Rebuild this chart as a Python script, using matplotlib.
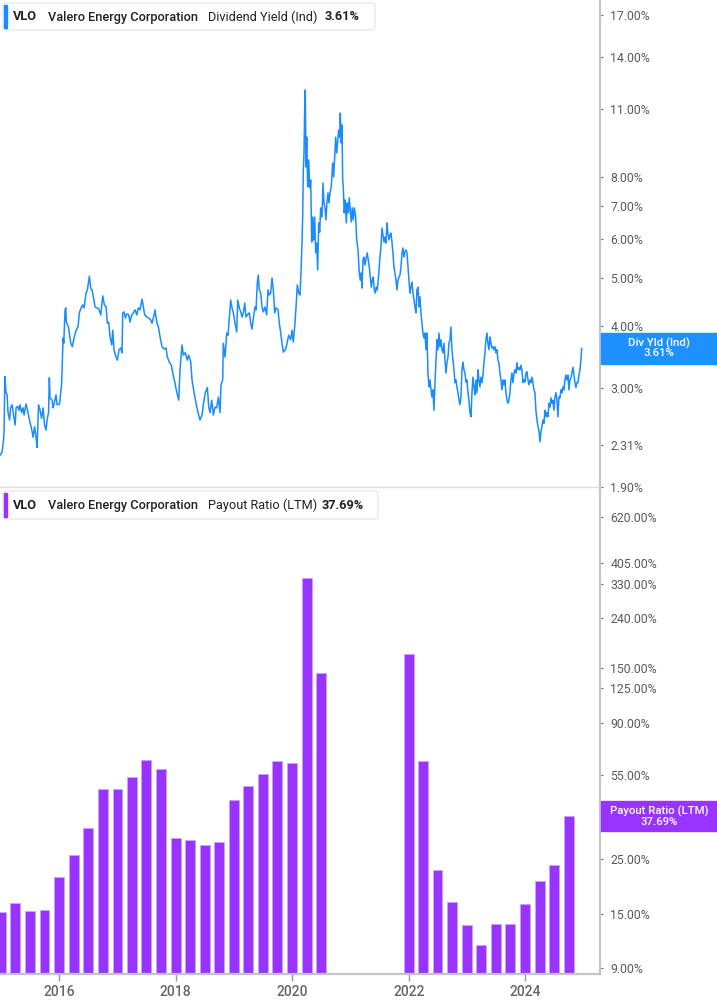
import numpy as np
import pandas as pd
import matplotlib
matplotlib.use("Agg")
import matplotlib.pyplot as plt
from matplotlib.patches import FancyBboxPatch, Rectangle
from matplotlib.ticker import FixedLocator, NullLocator

plt.rcParams['font.family'] = ['Roboto', 'DejaVu Sans']

W, H = 717, 1005

BLUE = '#1a8cff'
BLUE_BOX = '#1e90ff'
PURPLE = '#9933ff'
PURPLE_EDGE = '#c9a3ff'
SPINE_GRAY = '#c4c4c4'
LABEL_GRAY = '#5a5a5a'

symbol = "VLO"
company = "Valero Energy Corporation"

# Dividend Yield (Ind), in %; time is a decimal year
yield_pts = [
    (2014.982, 2.20), (2015.016, 2.23), (2015.042, 2.36), (2015.051, 2.47), (2015.063, 3.17),
    (2015.085, 2.94), (2015.102, 2.91), (2015.119, 2.68), (2015.145, 2.59), (2015.162, 2.74),
    (2015.188, 2.78), (2015.214, 2.65), (2015.240, 2.53), (2015.257, 2.74), (2015.282, 2.76),
    (2015.308, 2.71), (2015.325, 2.78), (2015.351, 2.68), (2015.377, 2.74), (2015.394, 2.65),
    (2015.428, 2.79), (2015.454, 2.71), (2015.480, 2.61), (2015.506, 2.53), (2015.531, 2.46),
    (2015.549, 2.39), (2015.574, 2.51), (2015.600, 2.39), (2015.617, 2.28), (2015.643, 2.78),
    (2015.669, 2.71), (2015.694, 2.61), (2015.720, 2.74), (2015.746, 2.53), (2015.772, 2.47),
    (2015.789, 2.59), (2015.815, 2.68), (2015.828, 3.15), (2015.840, 2.87), (2015.875, 2.84),
    (2015.892, 2.74), (2015.909, 2.79), (2015.943, 2.91), (2015.961, 2.78), (2016.003, 2.79),
    (2016.038, 3.05), (2016.055, 3.55), (2016.064, 3.79), (2016.076, 3.70), (2016.086, 3.99),
    (2016.098, 4.32), (2016.110, 4.36), (2016.120, 4.08),
    (2016.155, 3.99), (2016.196, 3.70), (2016.223, 3.64), (2016.252, 3.79), (2016.287, 3.93),
    (2016.321, 3.99), (2016.343, 4.26), (2016.373, 4.36), (2016.402, 4.42), (2016.424, 4.36),
    (2016.458, 4.67), (2016.481, 4.74), (2016.515, 5.05), (2016.539, 4.78), (2016.561, 4.74),
    (2016.584, 4.59), (2016.613, 4.38), (2016.642, 4.36), (2016.676, 4.34), (2016.711, 4.22),
    (2016.745, 4.61), (2016.773, 4.42), (2016.802, 4.38), (2016.824, 4.06), (2016.848, 4.08),
    (2016.870, 3.81), (2016.900, 3.67), (2016.917, 3.93), (2016.939, 3.59), (2016.961, 3.50),
    (2016.996, 3.42), (2017.025, 3.59), (2017.054, 3.62), (2017.076, 3.54), (2017.088, 4.26),
    (2017.111, 4.28), (2017.133, 4.16), (2017.157, 4.24), (2017.191, 4.22), (2017.214, 4.08),
    (2017.236, 4.20), (2017.270, 4.26), (2017.300, 4.32), (2017.329, 4.22), (2017.356, 4.36),
    (2017.385, 4.32), (2017.420, 4.54), (2017.442, 4.38), (2017.466, 4.22), (2017.500, 4.18),
    (2017.535, 4.16), (2017.569, 4.12), (2017.591, 4.06), (2017.614, 4.16), (2017.643, 4.32),
    (2017.672, 4.08), (2017.700, 3.99), (2017.729, 3.81), (2017.763, 3.64), (2017.798, 3.60),
    (2017.832, 3.62), (2017.854, 3.47), (2017.888, 3.39), (2017.923, 3.34), (2017.947, 3.22),
    (2017.981, 3.09), (2018.015, 2.95), (2018.050, 2.84), (2018.072, 3.27), (2018.106, 3.67),
    (2018.129, 3.50), (2018.163, 3.54), (2018.197, 3.42), (2018.221, 3.50), (2018.256, 3.39),
    (2018.278, 3.12), (2018.313, 2.94), (2018.347, 2.80), (2018.381, 2.68), (2018.415, 2.59),
    (2018.450, 2.65), (2018.472, 2.78), (2018.506, 2.94), (2018.541, 3.01), (2018.565, 2.75),
    (2018.587, 2.68), (2018.616, 2.84), (2018.644, 2.65), (2018.673, 2.75), (2018.702, 2.74),
    (2018.730, 2.88), (2018.759, 2.68), (2018.776, 3.05), (2018.805, 3.12), (2018.815, 3.70),
    (2018.845, 3.47), (2018.874, 3.88), (2018.896, 3.84), (2018.918, 4.16), (2018.942, 4.52),
    (2018.965, 4.36), (2018.987, 4.26), (2019.016, 4.06), (2019.045, 3.90), (2019.063, 4.52),
    (2019.090, 4.36), (2019.114, 4.28), (2019.137, 4.18), (2019.159, 4.26), (2019.183, 4.46),
    (2019.205, 4.18), (2019.228, 4.22), (2019.262, 4.26), (2019.286, 4.06), (2019.308, 3.95),
    (2019.331, 4.16), (2019.360, 4.38), (2019.377, 4.32), (2019.399, 4.89), (2019.416, 5.08),
    (2019.433, 4.74), (2019.457, 4.67), (2019.480, 4.38), (2019.502, 4.28), (2019.531, 4.38),
    (2019.560, 4.22), (2019.583, 4.74), (2019.605, 4.63), (2019.629, 4.67), (2019.652, 5.01),
    (2019.674, 4.74), (2019.698, 4.26), (2019.720, 4.36), (2019.755, 4.32), (2019.777, 4.06),
    (2019.801, 3.88), (2019.823, 3.70), (2019.846, 3.55), (2019.880, 3.59), (2019.904, 3.67),
    (2019.938, 3.84), (2019.973, 3.76), (2019.995, 3.93), (2020.017, 3.72), (2020.041, 3.99),
    (2020.064, 4.38), (2020.086, 4.85), (2020.110, 4.67), (2020.132, 4.63),
    (2020.149, 5.13), (2020.166, 5.89), (2020.178, 6.65), (2020.189, 8.27), (2020.201, 8.95),
    (2020.213, 11.09), (2020.223, 12.00), (2020.235, 8.39), (2020.247, 9.64), (2020.264, 7.65),
    (2020.281, 8.67), (2020.299, 7.62), (2020.316, 7.90), (2020.333, 5.92), (2020.350, 6.65),
    (2020.367, 5.98), (2020.384, 6.65), (2020.402, 5.63), (2020.419, 5.89), (2020.436, 5.20),
    (2020.453, 6.47), (2020.470, 6.20), (2020.487, 6.94), (2020.510, 6.65), (2020.527, 7.79),
    (2020.544, 7.10), (2020.561, 6.94), (2020.578, 6.56), (2020.595, 7.13), (2020.613, 7.44),
    (2020.630, 7.10), (2020.647, 7.44), (2020.669, 7.65), (2020.693, 8.55), (2020.710, 8.01),
    (2020.728, 8.79), (2020.745, 9.64), (2020.762, 8.95), (2020.779, 9.42), (2020.796, 9.96),
    (2020.813, 9.64), (2020.824, 10.78), (2020.841, 9.38), (2020.853, 10.20), (2020.865, 7.90),
    (2020.875, 7.65), (2020.892, 6.78), (2020.909, 7.20), (2020.927, 6.47), (2020.944, 7.10),
    (2020.961, 6.78), (2020.978, 7.27), (2020.995, 6.87), (2021.012, 6.50), (2021.029, 6.94),
    (2021.047, 6.56), (2021.064, 6.94), (2021.088, 6.65), (2021.104, 6.03), (2021.128, 5.71),
    (2021.150, 5.13), (2021.167, 4.96), (2021.184, 5.13), (2021.196, 4.78), (2021.214, 5.45),
    (2021.231, 5.52), (2021.248, 5.32), (2021.265, 5.45), (2021.287, 5.63), (2021.304, 5.45),
    (2021.322, 5.27), (2021.339, 5.03), (2021.356, 4.80), (2021.373, 4.96), (2021.390, 5.03),
    (2021.407, 4.74), (2021.425, 4.67), (2021.442, 4.80), (2021.459, 4.74), (2021.483, 5.08),
    (2021.505, 5.52), (2021.522, 5.79), (2021.540, 6.32), (2021.557, 6.12), (2021.574, 5.92),
    (2021.591, 6.06), (2021.608, 5.89), (2021.625, 6.47), (2021.642, 6.17), (2021.660, 5.98),
    (2021.677, 6.12), (2021.694, 6.17), (2021.711, 5.92), (2021.728, 5.63), (2021.745, 5.27),
    (2021.763, 5.13), (2021.780, 4.96), (2021.797, 4.74), (2021.814, 4.96), (2021.831, 5.03),
    (2021.849, 5.08), (2021.866, 5.27), (2021.883, 5.63), (2021.900, 5.76), (2021.917, 5.52),
    (2021.934, 5.65), (2021.952, 5.71), (2021.969, 5.63), (2021.986, 5.27), (2022.003, 4.96),
    (2022.020, 4.67), (2022.037, 4.80), (2022.055, 4.91), (2022.072, 4.67), (2022.089, 4.52),
    (2022.106, 4.38), (2022.123, 4.26), (2022.140, 4.74), (2022.158, 4.80), (2022.175, 4.38),
    (2022.192, 4.59), (2022.209, 4.26), (2022.226, 4.06), (2022.243, 3.88), (2022.261, 3.79),
    (2022.278, 3.88), (2022.295, 3.59), (2022.312, 3.88), (2022.329, 3.22), (2022.347, 3.02),
    (2022.364, 3.12), (2022.381, 2.98), (2022.398, 2.88), (2022.415, 2.98), (2022.432, 2.71),
    (2022.450, 3.08), (2022.467, 3.42), (2022.484, 3.76), (2022.501, 3.59), (2022.518, 3.88),
    (2022.535, 3.64), (2022.553, 3.76), (2022.570, 3.59), (2022.587, 3.54), (2022.604, 3.70),
    (2022.621, 3.42), (2022.638, 3.22), (2022.656, 3.38), (2022.673, 3.47), (2022.690, 3.70),
    (2022.707, 3.76), (2022.724, 3.99), (2022.741, 3.59), (2022.759, 3.42), (2022.776, 3.27),
    (2022.793, 3.08), (2022.810, 3.12), (2022.827, 3.02), (2022.844, 2.94), (2022.862, 2.84),
    (2022.879, 2.78), (2022.896, 2.88), (2022.913, 3.27), (2022.930, 3.39), (2022.947, 3.27),
    (2022.965, 3.22), (2022.982, 3.09), (2022.999, 3.12), (2023.016, 2.94), (2023.033, 2.84),
    (2023.050, 2.68), (2023.068, 2.63), (2023.085, 2.94), (2023.102, 3.16), (2023.119, 3.02),
    (2023.136, 2.91), (2023.153, 3.12), (2023.171, 2.94), (2023.188, 3.27), (2023.205, 3.12),
    (2023.222, 3.02), (2023.239, 3.16), (2023.256, 3.08), (2023.274, 3.19), (2023.291, 3.39),
    (2023.308, 3.54), (2023.325, 3.76), (2023.342, 3.88), (2023.359, 3.70), (2023.377, 3.59),
    (2023.394, 3.81), (2023.411, 3.70), (2023.428, 3.62), (2023.445, 3.64), (2023.462, 3.59),
    (2023.480, 3.64), (2023.497, 3.54), (2023.514, 3.59), (2023.531, 3.42), (2023.548, 3.38),
    (2023.565, 3.22), (2023.583, 3.12), (2023.600, 2.98), (2023.617, 3.12), (2023.634, 3.05),
    (2023.651, 3.12), (2023.668, 2.94), (2023.686, 2.84), (2023.703, 2.80), (2023.720, 2.84),
    (2023.737, 2.94), (2023.754, 3.12), (2023.771, 3.22), (2023.789, 3.08), (2023.806, 3.22),
    (2023.823, 3.27), (2023.840, 3.22), (2023.857, 3.38), (2023.874, 3.27), (2023.892, 3.30),
    (2023.909, 3.27), (2023.926, 3.34), (2023.943, 3.27), (2023.960, 3.08), (2023.977, 3.12),
    (2023.995, 3.09), (2024.012, 3.22), (2024.029, 3.24), (2024.046, 3.12), (2024.063, 3.05),
    (2024.080, 3.12), (2024.098, 3.08), (2024.115, 3.16), (2024.132, 3.08), (2024.149, 2.98),
    (2024.166, 2.94), (2024.183, 2.71), (2024.201, 2.59), (2024.218, 2.51), (2024.235, 2.47),
    (2024.252, 2.34), (2024.269, 2.44), (2024.286, 2.51), (2024.304, 2.59), (2024.321, 2.55),
    (2024.338, 2.71), (2024.355, 2.63), (2024.372, 2.68), (2024.389, 2.63), (2024.407, 2.80),
    (2024.424, 2.75), (2024.441, 2.87), (2024.458, 2.80), (2024.475, 2.84), (2024.492, 2.71),
    (2024.510, 2.88), (2024.527, 2.94), (2024.544, 2.84), (2024.561, 2.63), (2024.578, 2.88),
    (2024.595, 2.87), (2024.613, 2.98), (2024.630, 2.94), (2024.647, 3.02), (2024.664, 2.98),
    (2024.681, 3.12), (2024.698, 3.19), (2024.716, 3.12), (2024.733, 3.19), (2024.750, 2.98),
    (2024.767, 3.12), (2024.784, 3.15), (2024.801, 3.22), (2024.819, 3.31), (2024.836, 3.19),
    (2024.853, 3.08), (2024.870, 3.01), (2024.887, 3.08), (2024.904, 3.08), (2024.922, 3.19),
    (2024.939, 3.27), (2024.956, 3.42), (2024.968, 3.61),
]
yield_last = 3.61

# Payout Ratio (LTM), in %, one bar per quarter end; None = no value shown
quarters = pd.period_range('2014Q4', '2024Q3', freq='Q')
payout = [15.2, 16.6, 15.4, 15.5, 21.2, 26.1, 33.6, 48.4, 48.3, 54.3,
          63.7, 58.4, 30.5, 29.9, 28.7, 29.4, 43.8, 49.9, 55.7, 62.8,
          61.6, 351.6, 143.4, None, None, None, None, None, 171.4, 62.8,
          22.6, 16.8, 13.5, 11.2, 13.7, 13.7, 16.4, 20.4, 23.7, 37.69]
payout_last = 37.69

yield_ticks = [1.90, 2.31, 3.00, 4.00, 5.00, 6.00, 7.00, 8.00, 11.00, 14.00, 17.00]
payout_ticks = [9, 15, 25, 55, 90, 125, 150, 240, 330, 405, 620]
year_ticks = [2016, 2018, 2020, 2022, 2024]


def fx(px):
    return px / W


def fy(py):
    return 1 - py / H


fig = plt.figure(figsize=(W / 100, H / 100), dpi=100)
fig.patch.set_facecolor('white')
ax1 = fig.add_axes([0, fy(487), fx(600), 487 / H])
ax2 = fig.add_axes([0, fy(974), fx(600), (974 - 489) / H])

# line
t = np.array([p[0] for p in yield_pts])
v = np.array([p[1] for p in yield_pts])
line_dates = pd.Timestamp('2015-01-01') + pd.to_timedelta((t - 2015) * 365.25, unit='D')
ax1.plot(line_dates, v, color=BLUE, lw=1.1, solid_joinstyle='round')

# bars
qdates = quarters.to_timestamp(how='end').normalize()
keep = [p is not None for p in payout]
bar_x = qdates[keep]
bar_h = np.array([p for p in payout if p is not None])
ax2.bar(bar_x, bar_h - 1, bottom=1, width=62, color=PURPLE,
        edgecolor=PURPLE_EDGE, linewidth=0.7, zorder=2)

xlim = (pd.Timestamp('2014-12-25'), pd.Timestamp('2025-04-14'))


def style(ax, ticks, lims):
    ax.set_yscale('log')
    ax.set_ylim(*lims)
    ax.set_xlim(*xlim)
    ax.yaxis.tick_right()
    ax.yaxis.set_major_locator(FixedLocator(ticks))
    ax.yaxis.set_minor_locator(NullLocator())
    ax.set_yticklabels([f"{tk:.2f}%" for tk in ticks])
    ax.tick_params(axis='y', which='major', direction='out', length=2.5, width=0.8,
                   color='#777777', labelsize=8.8, labelcolor=LABEL_GRAY, pad=5)
    for s in ('top', 'left'):
        ax.spines[s].set_visible(False)
    ax.spines['right'].set_color(SPINE_GRAY)
    ax.spines['right'].set_linewidth(1.6)
    ax.set_facecolor('white')


style(ax1, yield_ticks, (1.897, 18.23))
style(ax2, payout_ticks, (8.53, 808))

ax1.spines['bottom'].set_color('#dddddd')
ax1.spines['bottom'].set_linewidth(1.0)
ax1.tick_params(axis='x', bottom=False, labelbottom=False)

ax2.spines['bottom'].set_color(SPINE_GRAY)
ax2.spines['bottom'].set_linewidth(1.6)
ax2.set_xticks([pd.Timestamp(f'{y}-01-01') for y in year_ticks])
ax2.set_xticklabels([str(y) for y in year_ticks])
ax2.tick_params(axis='x', direction='out', length=5, width=1, color='#999999',
                labelsize=10, labelcolor='#666666', pad=3)
for lab in ax2.get_xticklabels():
    lab.set_fontweight('medium')


def header(top, bottom, right, color, metric, value, value_x):
    box = FancyBboxPatch((fx(3), fy(bottom)), fx(right - 3), (bottom - top) / H,
                         boxstyle="round,pad=0,rounding_size=0.004",
                         transform=fig.transFigure, facecolor='white',
                         edgecolor='#e3e3e3', linewidth=0.8, zorder=5)
    fig.add_artist(box)
    fig.add_artist(Rectangle((fx(4), fy(bottom - 2)), fx(3), (bottom - top - 4) / H,
                             transform=fig.transFigure, color=color, zorder=6))
    yc = fy((top + bottom) / 2 + 0.5)
    kw = dict(va='center', ha='left', fontsize=9.2, color='#222222', zorder=7)
    fig.text(fx(13), yc, symbol, fontweight='bold', **kw)
    fig.text(fx(47.5), yc, company, fontweight='medium', **kw)
    fig.text(fx(208), yc, metric, fontweight='normal', **kw)
    fig.text(fx(value_x), yc, value, fontweight='bold', **kw)


header(3, 30, 375, BLUE, "Dividend Yield (Ind)", f"{yield_last:.2f}%", 325)
header(491, 519, 378, PURPLE, "Payout Ratio (LTM)", f"{payout_last:.2f}%", 322)


def value_tag(top, bottom, color, name, value):
    fig.add_artist(Rectangle((fx(601), fy(bottom)), fx(116), (bottom - top) / H,
                             transform=fig.transFigure, color=color, zorder=5))
    kw = dict(ha='center', va='center', fontsize=8.2, color='white',
              fontweight='medium', zorder=6)
    fig.text(fx(659), fy(top + 10), name, **kw)
    fig.text(fx(659), fy(top + 20.5), value, **kw)


value_tag(333, 364, BLUE_BOX, "Div Yld (Ind)", f"{yield_last:.2f}%")
value_tag(801, 831, PURPLE, "Payout Ratio (LTM)", f"{payout_last:.2f}%")

fig.savefig('out.png', dpi=100)
